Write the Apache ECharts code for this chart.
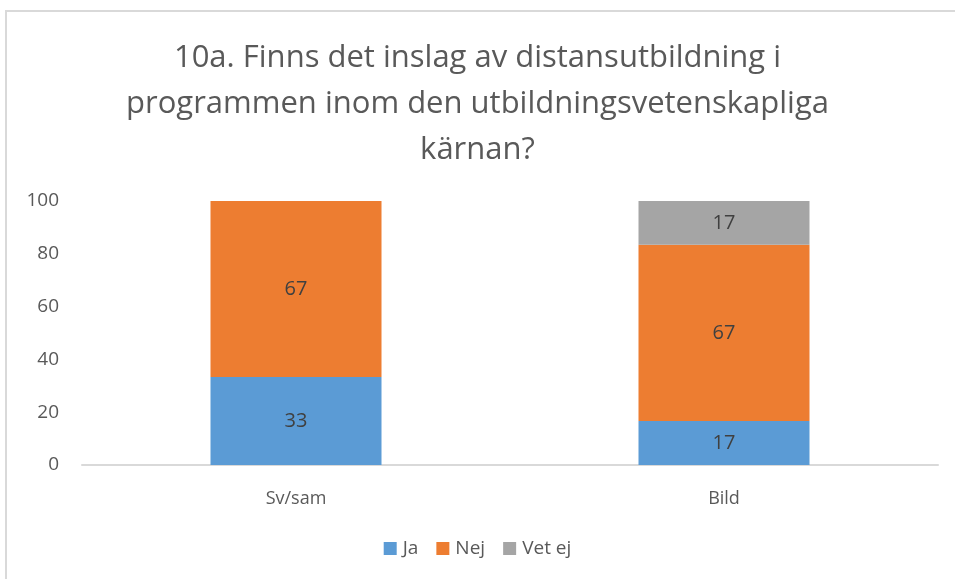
<!DOCTYPE html>
<html>
<head>
<meta charset="utf-8">
<script src="https://cdn.jsdelivr.net/npm/echarts@6/dist/echarts.min.js"></script>
<style>html,body{margin:0;padding:0;background:#fff}#c{width:955px;height:579px}</style>
</head>
<body>
<div id="c"></div>
<script>
const categories = ['Sv/sam', 'Bild'];
const seriesNames = ['Ja', 'Nej', 'Vet ej'];
const ja = [33.3, 16.7];
const nej = [66.7, 66.7];
const vetEj = [0, 16.7];
const colors = ['#5b9bd5', '#ed7d31', '#a5a5a5'];
const yTicks = [0, 20, 40, 60, 80, 100];

const FONT = '"Open Sans", "Noto Sans", sans-serif';
const chart = echarts.init(document.getElementById('c'), null, {renderer: 'canvas'});
const values = [ja, nej, vetEj];
chart.setOption({
  animation: false,
  backgroundColor: '#fff',
  title: {
    text: '10a. Finns det inslag av distansutbildning i\nprogrammen inom den utbildningsvetenskapliga\nkärnan?',
    left: 'center', top: 30,
    textStyle: {fontFamily: FONT, fontSize: 31, fontWeight: 'normal', color: '#595959', lineHeight: 46}
  },
  legend: {
    bottom: 16, left: 'center', itemWidth: 13, itemHeight: 13, itemGap: 18,
    icon: 'rect',
    textStyle: {fontFamily: FONT, fontSize: 19, color: '#595959', padding: [0,0,0,1]},
    data: seriesNames
  },
  grid: {left: 82, right: 17, top: 201, bottom: 114, containLabel: false},
  xAxis: {
    type: 'category', data: categories,
    axisLine: {lineStyle: {color: '#d9d9d9', width: 2}},
    axisTick: {show: false},
    axisLabel: {fontFamily: FONT, fontSize: 18, color: '#595959', margin: 25}
  },
  yAxis: {
    type: 'value', min: yTicks[0], max: yTicks[yTicks.length-1], interval: 20,
    splitLine: {show: false},
    axisLine: {show: false}, axisTick: {show: false},
    axisLabel: {fontFamily: FONT, fontSize: 19, color: '#595959', margin: 23}
  },
  series: seriesNames.map((n, i) => ({
    name: n, type: 'bar', stack: 'total', barWidth: 171,
    data: values[i],
    itemStyle: {color: colors[i]},
    label: {
      show: true, position: 'inside', fontFamily: FONT, fontSize: 20, color: '#404040',
      formatter: p => p.value > 0 ? Math.round(p.value) : ''
    }
  })),
  graphic: [{
    type: 'polyline', silent: true,
    shape: {points: [[6, 590], [6, 11], [970, 11]]},
    style: {stroke: '#d9d9d9', lineWidth: 2, fill: null}
  }]
});
</script>
</body>
</html>
